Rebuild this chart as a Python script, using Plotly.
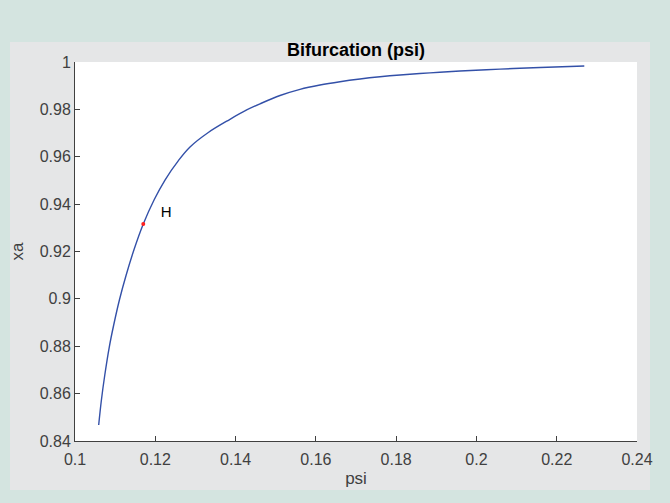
import plotly.graph_objects as go

psi = [0.10590, 0.10658, 0.10742, 0.10854, 0.10964, 0.11106, 0.11275, 0.11467,
       0.11701, 0.11975, 0.12242, 0.12576, 0.12865, 0.13321, 0.13861, 0.14277,
       0.14609, 0.15107, 0.15605, 0.16103, 0.16601, 0.17100, 0.17598, 0.18096,
       0.18843, 0.19591, 0.20587, 0.21584, 0.22687]
xa = [0.84675, 0.85731, 0.86786, 0.87968, 0.88897, 0.89953, 0.91008, 0.92063,
      0.93161, 0.94195, 0.95018, 0.95837, 0.96412, 0.97024, 0.97581, 0.97974,
      0.98235, 0.98586, 0.98847, 0.99029, 0.99168, 0.99282, 0.99375, 0.99451,
      0.99542, 0.99618, 0.99699, 0.99767, 0.99831]

hopf_psi = [0.11701]
hopf_xa = [0.93161]
hopf_label = ["H"]
label_psi = [0.1227]
label_xa = [0.9363]

x_ticks = [0.1, 0.12, 0.14, 0.16, 0.18, 0.2, 0.22, 0.24]
x_ticktext = ["0.1", "0.12", "0.14", "0.16", "0.18", "0.2", "0.22", "0.24"]
y_ticks = [0.84, 0.86, 0.88, 0.9, 0.92, 0.94, 0.96, 0.98, 1.0]
y_ticktext = ["0.84", "0.86", "0.88", "0.9", "0.92", "0.94", "0.96", "0.98", "1"]

FONT = "Liberation Sans, Arial, sans-serif"
AX = "#404040"

fig = go.Figure()
fig.add_trace(go.Scatter(x=psi, y=xa, mode="lines",
                         line=dict(color="#3350a8", width=1.4, shape="spline", smoothing=1.0, simplify=False),
                         hoverinfo="skip", showlegend=False))
fig.add_trace(go.Scatter(x=hopf_psi, y=hopf_xa, mode="markers", marker=dict(color="#ff2020", size=4),
                         showlegend=False))
fig.add_trace(go.Scatter(x=label_psi, y=label_xa, mode="text", text=hopf_label,
                         textfont=dict(family=FONT, size=15, color="black"), showlegend=False))

pw, ph = 562, 379
fig.add_shape(type="rect", xref="paper", yref="paper",
              x0=(10 - 75) / pw, x1=(650 - 75) / pw, y0=-(490 - 441) / ph, y1=1 + (62 - 42) / ph,
              fillcolor="#e5e6e7", line=dict(width=0), layer="below")
fig.add_shape(type="rect", xref="paper", yref="paper", x0=0, x1=1, y0=0, y1=1,
              fillcolor="white", line=dict(width=0), layer="below")

axis_common = dict(showgrid=False, zeroline=False, showline=True, linecolor=AX, linewidth=1,
                   ticks="inside", ticklen=5, tickcolor=AX, mirror=False,
                   tickfont=dict(family=FONT, size=16, color=AX))
fig.update_xaxes(range=[0.1, 0.24], tickvals=x_ticks, ticktext=x_ticktext, ticklabelstandoff=4,
                 title=dict(text="psi", font=dict(family=FONT, size=17, color=AX), standoff=4), **axis_common)
fig.update_yaxes(range=[0.84, 1.0], tickvals=y_ticks, ticktext=y_ticktext, ticklabelstandoff=0,
                 title=dict(text="xa", font=dict(family=FONT, size=17, color=AX), standoff=11), **axis_common)

fig.update_layout(
    width=670, height=503, autosize=False,
    margin=dict(l=75, r=33, t=62, b=62),
    paper_bgcolor="#d4e4e0", plot_bgcolor="white",
    title=dict(text="<b>Bifurcation (psi)</b>", x=356 / 670, xanchor="center", y=1 - 50 / 503, yanchor="middle",
               font=dict(family=FONT, size=18, color="black")),
)
fig.write_html("out.html", config={"displayModeBar": False},
               post_script="document.body.style.margin='0';document.body.style.padding='0';")
